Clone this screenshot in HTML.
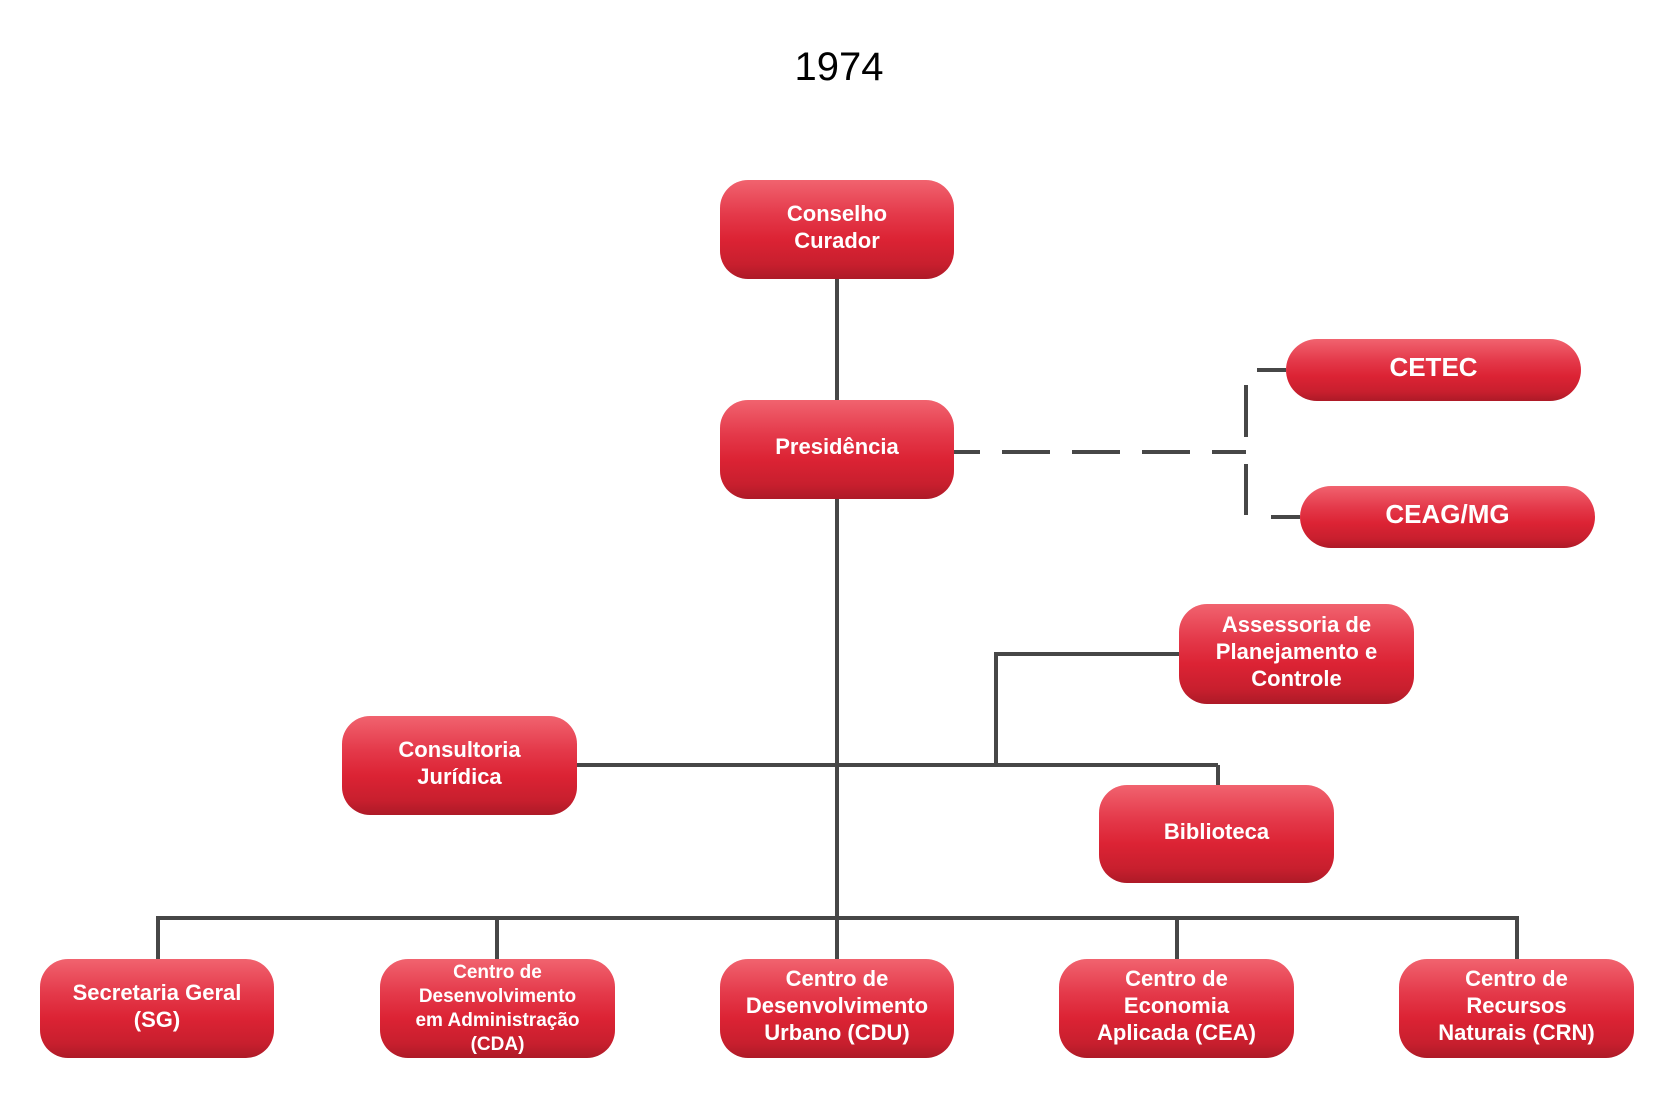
<!DOCTYPE html>
<html><head><meta charset="utf-8"><style>
body{margin:0;width:1676px;height:1100px;background:#fff;position:relative;overflow:hidden;font-family:"Liberation Sans",sans-serif}
.b{position:absolute;box-sizing:border-box;padding-bottom:6px;border-radius:28px;background:linear-gradient(#f1636f 0%,#e4394a 35%,#dc2334 60%,#c81f2e 85%,#ad1a27 100%);color:#fff;font-weight:bold;font-size:22px;line-height:27px;display:flex;align-items:center;justify-content:center;text-align:center}
.p{border-radius:31px;font-size:26px}
svg{position:absolute;left:0;top:0}
</style></head><body>
<svg width="1676" height="1100">
<g stroke="#474747" stroke-width="4" fill="none">
<line x1="837" y1="279" x2="837" y2="400"/>
<line x1="837" y1="499" x2="837" y2="959"/>
<line x1="577" y1="765" x2="1218" y2="765"/>
<polyline points="1218,765 1218,785"/>
<polyline points="996,765 996,654 1179,654"/>
<polyline points="158,959 158,918 1517,918 1517,959"/>
<line x1="497" y1="918" x2="497" y2="959"/>
<line x1="1177" y1="918" x2="1177" y2="959"/>
<line x1="954" y1="452" x2="1246" y2="452" stroke-dasharray="26 22 48 22 48 22 48 22 48"/>
<line x1="1246" y1="385" x2="1246" y2="437"/>
<line x1="1246" y1="464" x2="1246" y2="515"/>
<line x1="1257" y1="370" x2="1286" y2="370"/>
<line x1="1271" y1="517" x2="1300" y2="517"/>
</g>
<text x="839" y="80" font-family="Liberation Sans" font-size="40" text-anchor="middle" fill="#000">1974</text>
</svg>
<div class="b" style="left:720px;top:180px;width:234px;height:99px">Conselho<br>Curador</div>
<div class="b" style="left:720px;top:400px;width:234px;height:99px">Presidência</div>
<div class="b p" style="left:1286px;top:339px;width:295px;height:62px">CETEC</div>
<div class="b p" style="left:1300px;top:486px;width:295px;height:62px">CEAG/MG</div>
<div class="b" style="left:1179px;top:604px;width:235px;height:100px">Assessoria de<br>Planejamento e<br>Controle</div>
<div class="b" style="left:342px;top:716px;width:235px;height:99px">Consultoria<br>Jurídica</div>
<div class="b" style="left:1099px;top:785px;width:235px;height:98px">Biblioteca</div>
<div class="b" style="left:40px;top:959px;width:234px;height:99px">Secretaria Geral<br>(SG)</div>
<div class="b" style="left:380px;top:959px;width:235px;height:99px;font-size:19px;line-height:24px;padding-bottom:0">Centro de<br>Desenvolvimento<br>em Administração<br>(CDA)</div>
<div class="b" style="left:720px;top:959px;width:234px;height:99px">Centro de<br>Desenvolvimento<br>Urbano (CDU)</div>
<div class="b" style="left:1059px;top:959px;width:235px;height:99px">Centro de<br>Economia<br>Aplicada (CEA)</div>
<div class="b" style="left:1399px;top:959px;width:235px;height:99px">Centro de<br>Recursos<br>Naturais (CRN)</div>
</body></html>
